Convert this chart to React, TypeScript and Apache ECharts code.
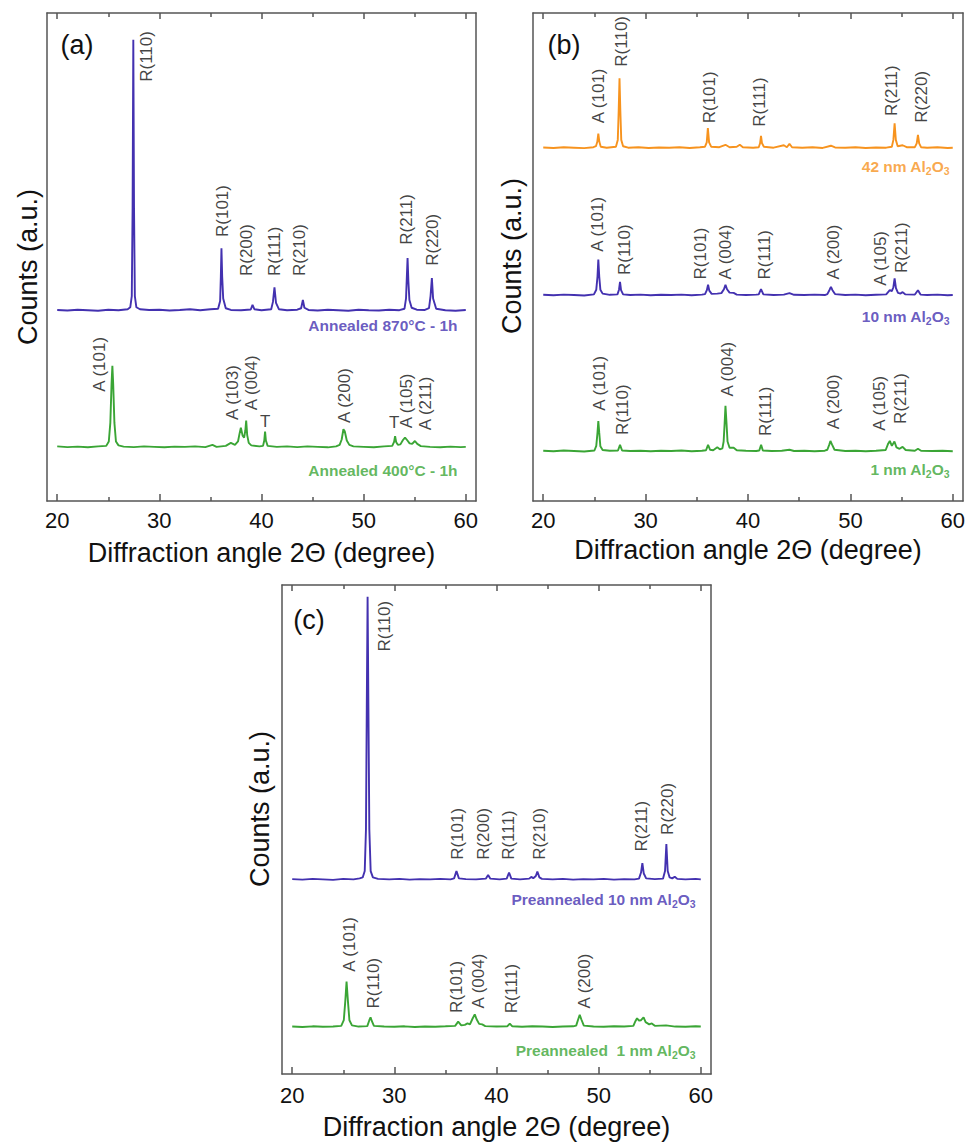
import React, { useEffect, useRef } from 'react';
import * as echarts from 'echarts';

const FONT = "'Liberation Sans', Arial, Helvetica, sans-serif";
const BLUE = '#4331b0';
const ORANGE = '#f7931e';
const GREEN = '#3aa535';
const AXIS = '#555555';
const TXT = '#111111';

const xTicksMajor = [20, 30, 40, 50, 60];
const xTicksMinor = [25, 35, 45, 55];
const X_NAME = 'Diffraction angle 2\u0398 (degree)';
const Y_NAME = 'Counts (a.u.)';

// ---------- panel (a) ----------
const a870 = [[20,39.15],[21,39.05],[22,39.2],[23,39.1],[24,39.0],[25,39.2],[26,39.1],[26.9,39.3],[27.15,39.7],[27.3,42],[27.38,60],[27.45,94.5],[27.52,60],[27.6,42],[27.75,39.7],[28.1,39.3],[29,39.15],[30,39.2],[31,39.05],[32,39.15],[33,39.3],[34,39.1],[35,39.3],[35.75,39.4],[35.95,41],[36.02,46],[36.08,51.8],[36.15,46],[36.25,41.5],[36.5,39.5],[37,39.15],[38,39.1],[38.95,39.25],[39.12,40.2],[39.3,39.3],[40,39.1],[40.95,39.3],[41.12,40.8],[41.27,43.8],[41.42,40.6],[41.7,39.3],[42.5,39.1],[43.5,39.2],[43.88,39.5],[44.05,41.2],[44.2,39.6],[44.6,39.15],[45.5,39.05],[46.5,39.2],[47.5,39.1],[48.5,39.0],[49.5,39.2],[50.5,39.1],[51.5,39.05],[52.5,39.2],[53.5,39.1],[54.0,39.4],[54.15,41.5],[54.23,46],[54.3,49.8],[54.38,45],[54.48,41.2],[54.7,39.6],[55.2,39.2],[56,39.15],[56.4,39.5],[56.55,42],[56.68,45.7],[56.8,41.5],[57.1,39.4],[58,39.1],[59,39.0],[60,39.15]];
const a400 = [[20,11.2],[21,11.05],[22,11.15],[23,11.0],[24,11.2],[24.8,11.3],[25.05,12.2],[25.2,16],[25.32,24],[25.4,27.7],[25.48,24],[25.6,16],[25.75,12.2],[26.0,11.4],[26.5,11.15],[27.5,11.05],[28.5,11.2],[29.5,11.1],[30.5,11.0],[31.5,11.15],[32.5,11.1],[33.5,11.2],[34.5,11.05],[35.2,11.5],[35.6,11.1],[36.5,11.3],[37.0,11.9],[37.4,11.5],[37.7,12.2],[37.85,13.8],[37.98,15.0],[38.15,13.4],[38.3,13.0],[38.42,14.5],[38.5,16.5],[38.6,13.5],[38.75,11.9],[39.0,11.4],[39.8,11.2],[40.15,11.3],[40.27,12.4],[40.35,14.2],[40.43,12.4],[40.6,11.3],[41.5,11.1],[42.5,11.2],[43.5,11.05],[44.5,11.2],[45.5,11.1],[46.5,11.0],[47.3,11.2],[47.65,11.5],[47.85,12.6],[48.02,14.7],[48.15,14.3],[48.35,12.4],[48.6,11.5],[49,11.2],[50,11.1],[51,11.0],[52,11.2],[52.8,11.3],[52.98,12.1],[53.08,13.3],[53.18,12.1],[53.35,11.5],[53.6,11.6],[53.85,12.5],[54.05,13.0],[54.25,12.5],[54.5,11.8],[54.75,11.7],[55.02,12.3],[55.25,11.7],[55.6,11.25],[56.5,11.1],[57.5,11.0],[58.5,11.15],[59.5,11.05],[60,11.1]];
const a870Labels = [[28.79,85.9,'R(110)'],[36.2,54.1,'R(101)'],[38.57,46.1,'R(200)'],[41.28,46.1,'R(111)'],[43.73,46.1,'R(210)'],[54.23,52.5,'R(211)'],[56.77,48.2,'R(220)']];
const a400Labels = [[24.16,22.4,'A (101)'],[37.2,16.6,'A (103)'],[39.06,18.6,'A (004)'],[48.13,16.0,'A (200)'],[54.23,14.9,'A (105)'],[56.1,14.5,'A (211)']];
const aUpright = [[40.37,16.3,'T'],[53.0,16.0,'T']];

// ---------- panel (b) ----------
const b42 = [[20,72.45],[21,72.35],[22,72.5],[23,72.4],[24,72.3],[24.9,72.5],[25.15,72.7],[25.28,73.6],[25.38,75.3],[25.48,73.6],[25.62,72.6],[26.2,72.4],[27.1,72.6],[27.28,74],[27.37,80],[27.45,86.6],[27.53,80],[27.62,74],[27.8,72.7],[28.3,72.4],[29.3,72.5],[30.3,72.35],[31.3,72.45],[32.3,72.4],[33.3,72.5],[34.3,72.35],[35.3,72.5],[35.8,72.6],[35.97,73.5],[36.08,76.4],[36.2,73.5],[36.4,72.6],[37.2,72.5],[37.8,73.0],[38.2,72.5],[38.9,72.6],[39.2,73.0],[39.5,72.5],[40.5,72.4],[41.05,72.5],[41.18,73.3],[41.27,74.8],[41.37,73.3],[41.55,72.6],[42.5,72.4],[43.5,72.9],[43.8,72.5],[44.05,73.2],[44.3,72.5],[45.3,72.4],[46.3,72.5],[47.3,72.35],[48.1,72.8],[48.5,72.45],[49.5,72.4],[50.5,72.5],[51.5,72.35],[52.5,72.45],[53.5,72.4],[54.05,72.6],[54.2,74],[54.32,77.4],[54.44,74],[54.62,72.7],[55.1,72.9],[55.5,72.5],[56.3,72.5],[56.48,73.3],[56.6,75.0],[56.72,73.3],[56.9,72.5],[57.5,72.4],[58.5,72.5],[59.5,72.35],[60,72.4]];
const b10 = [[20,42.25],[21,42.15],[22,42.3],[23,42.2],[24,42.1],[24.95,42.35],[25.18,43.3],[25.3,46],[25.38,49.5],[25.47,46],[25.58,43.3],[25.8,42.5],[26.5,42.25],[27.25,42.35],[27.4,43.3],[27.5,44.9],[27.6,43.2],[27.8,42.35],[28.5,42.2],[29.5,42.3],[30.5,42.15],[31.5,42.25],[32.5,42.2],[33.5,42.3],[34.5,42.15],[35.5,42.3],[35.8,42.4],[35.98,43.2],[36.1,44.3],[36.22,43.1],[36.45,42.45],[37.0,42.5],[37.4,42.6],[37.65,43.4],[37.8,44.3],[37.95,43.4],[38.2,42.7],[38.6,42.65],[38.9,42.3],[39.8,42.2],[40.8,42.3],[41.05,42.35],[41.27,43.4],[41.5,42.35],[42.5,42.2],[43.5,42.3],[44.05,42.6],[44.5,42.25],[45.5,42.2],[46.5,42.3],[47.5,42.2],[47.75,42.4],[47.95,43.2],[48.1,43.9],[48.25,43.2],[48.5,42.4],[49.5,42.2],[50.5,42.3],[51.5,42.15],[52.5,42.25],[53.5,42.35],[53.85,43.2],[54.05,43.0],[54.2,43.8],[54.32,45.6],[54.45,43.6],[54.65,42.65],[54.9,42.5],[55.1,42.8],[55.35,42.35],[56.3,42.3],[56.6,43.2],[56.85,42.3],[57.5,42.2],[58.5,42.3],[59.5,42.15],[60,42.2]];
const b1 = [[20,10.3],[21,10.2],[22,10.35],[23,10.25],[24,10.15],[25.0,10.35],[25.18,11.3],[25.3,14],[25.38,16.4],[25.47,14],[25.58,11.2],[25.8,10.45],[26.5,10.3],[27.3,10.35],[27.5,11.5],[27.7,10.35],[28.5,10.25],[29.5,10.3],[30.5,10.2],[31.5,10.3],[32.5,10.25],[33.5,10.35],[34.5,10.2],[35.5,10.3],[35.9,10.4],[36.1,11.5],[36.3,10.5],[36.6,10.4],[37.0,11.0],[37.25,10.6],[37.5,10.8],[37.62,12.2],[37.72,16],[37.8,19.5],[37.9,16],[38.0,12.2],[38.2,10.9],[38.6,10.9],[38.9,10.4],[39.8,10.3],[40.8,10.25],[41.1,10.35],[41.28,11.5],[41.45,10.35],[42.3,10.25],[43.3,10.3],[44.05,10.5],[44.5,10.25],[45.5,10.3],[46.5,10.2],[47.5,10.3],[47.75,10.5],[47.95,11.6],[48.05,12.3],[48.2,11.6],[48.45,10.5],[49.5,10.25],[50.5,10.3],[51.5,10.2],[52.5,10.3],[53.45,10.45],[53.7,11.8],[53.85,12.3],[54.05,11.3],[54.3,12.2],[54.5,11.0],[54.8,10.7],[55.1,11.1],[55.4,10.45],[56.3,10.3],[56.6,10.7],[56.9,10.3],[58,10.25],[59,10.3],[60,10.2]];
const b42Labels = [[25.38,77.4,'A (101)'],[27.6,89.0,'R(110)'],[36.2,77.4,'R(101)'],[41.1,76.7,'R(111)'],[54.05,78.9,'R(211)'],[56.9,77.5,'R(220)']];
const b10Labels = [[25.3,51.1,'A (101)'],[27.9,46.3,'R(110)'],[35.4,45.4,'R(101)'],[37.85,45.4,'A (004)'],[41.6,45.4,'R(111)'],[48.35,45.4,'A (200)'],[52.9,44.1,'A (105)'],[54.97,46.7,'R(211)']];
const b1Labels = [[25.47,18.5,'A (101)'],[27.75,13.5,'R(110)'],[38.0,21.4,'A (004)'],[41.67,13.3,'R(111)'],[48.35,14.7,'A (200)'],[52.85,14.4,'A (105)'],[54.87,15.8,'R(211)']];

// ---------- panel (c) ----------
const c10 = [[20,39.85],[21,39.75],[22,39.9],[23,39.8],[24,39.7],[25,39.9],[26,39.8],[26.6,40.0],[26.9,40.2],[27.1,41.5],[27.22,50],[27.3,75],[27.38,97.6],[27.46,75],[27.55,50],[27.68,41.5],[27.9,40.2],[28.4,39.9],[29.5,39.8],[30.5,39.9],[31.5,39.75],[32.5,39.85],[33.5,39.8],[34.5,39.9],[35.5,39.8],[35.85,40.0],[36.08,41.5],[36.32,40.0],[37,39.85],[38,39.8],[38.95,39.95],[39.18,40.7],[39.4,39.95],[40.3,39.8],[41.0,39.95],[41.23,41.2],[41.45,39.95],[42.3,39.8],[43.2,39.95],[43.4,40.3],[43.6,40.05],[43.85,40.5],[44.0,41.4],[44.2,40.2],[44.45,39.9],[45.5,39.8],[46.5,39.9],[47.5,39.75],[48.5,39.85],[49.5,39.8],[50.5,39.9],[51.5,39.75],[52.5,39.85],[53.5,39.8],[53.95,39.95],[54.15,41.2],[54.28,43.1],[54.42,41.0],[54.65,40.0],[55.5,39.85],[56.3,39.95],[56.5,41.5],[56.63,47.0],[56.76,41.5],[56.95,40.2],[57.2,40.0],[57.45,40.35],[57.7,39.9],[58.5,39.8],[59.5,39.9],[60,39.8]];
const c1 = [[20,9.7],[21,9.6],[22,9.75],[23,9.65],[24,9.7],[24.8,9.85],[25.05,11],[25.2,15],[25.32,18.9],[25.45,15],[25.6,11],[25.85,9.95],[26.5,9.7],[27.35,9.8],[27.55,11],[27.67,11.6],[27.8,10.8],[28.0,9.85],[29,9.7],[30,9.65],[31,9.75],[32,9.6],[33,9.7],[34,9.65],[35,9.75],[35.95,9.85],[36.25,10.7],[36.55,9.95],[36.9,10.05],[37.16,10.35],[37.4,10.15],[37.65,11.3],[37.87,12.2],[38.05,11.2],[38.3,10.25],[38.6,10.15],[38.9,9.8],[40,9.7],[41.05,9.75],[41.3,10.3],[41.55,9.75],[42.5,9.65],[43.5,9.75],[44.5,9.7],[45.5,9.6],[46.5,9.7],[47.5,9.75],[47.8,9.9],[48.0,11.2],[48.15,12.1],[48.3,11.2],[48.55,9.9],[49.5,9.7],[50.5,9.65],[51.5,9.75],[52.5,9.7],[53.4,9.85],[53.6,10.8],[53.76,11.4],[53.95,10.9],[54.15,11.0],[54.4,11.6],[54.6,10.6],[54.95,10.15],[55.2,10.35],[55.5,9.85],[56.6,9.95],[57.5,9.7],[58.5,9.65],[59.5,9.75],[60,9.7]];
const c10Labels = [[29.07,86.4,'R(110)'],[36.15,43.8,'R(101)'],[38.7,43.8,'R(200)'],[41.14,43.8,'R(111)'],[44.24,43.8,'R(210)'],[54.19,45.5,'R(211)'],[56.73,48.9,'R(220)']];
const c1Labels = [[25.58,20.9,'A (101)'],[28.0,13.4,'R(110)'],[36.08,12.5,'R(101)'],[38.2,13.4,'A (004)'],[41.47,12.4,'R(111)'],[48.64,13.4,'A (200)']];

// sample names: [x(right edge), y(center), prefix, hasAl2O3, color, panel]
const sampleNames: [number, number, string, boolean, string, number][] = [
  [59.19, 35.9, 'Annealed 870\u00B0C - 1h', false, BLUE, 0],
  [59.19, 6.35, 'Annealed 400\u00B0C - 1h', false, GREEN, 0],
  [59.69, 68.5, '42 nm Al', true, ORANGE, 1],
  [59.69, 37.9, '10 nm Al', true, BLUE, 1],
  [59.69, 6.5, '1 nm Al', true, GREEN, 1],
  [59.5, 35.6, 'Preannealed 10 nm Al', true, BLUE, 2],
  [59.5, 4.76, 'Preannealed  1 nm Al', true, GREEN, 2],
];

const GRIDS = [
  { left: 47, top: 13, width: 429, height: 488 },
  { left: 533, top: 13, width: 430, height: 488 },
  { left: 282, top: 585, width: 429, height: 489 },
];
const NAME_GAP = [38, 35, 39];
const LABEL_MARGIN = [8, 8, 10];

function buildOption() {
  const axisLineStyle = { color: AXIS, width: 1.5 };
  const xAxis: any[] = [];
  const yAxis: any[] = [];
  GRIDS.forEach((_, g) => {
    xAxis.push({
      gridIndex: g, type: 'value', min: 19, max: 61, position: 'bottom',
      axisLine: { show: true, lineStyle: axisLineStyle },
      axisTick: { show: true, inside: true, length: 7, customValues: xTicksMajor, lineStyle: axisLineStyle },
      axisLabel: { show: true, customValues: xTicksMajor, fontSize: 22, color: TXT, fontFamily: FONT, margin: LABEL_MARGIN[g] },
      splitLine: { show: false },
      name: X_NAME, nameLocation: 'middle', nameGap: NAME_GAP[g],
      nameTextStyle: { fontSize: 27, color: TXT, fontFamily: FONT },
    });
    xAxis.push({
      gridIndex: g, type: 'value', min: 19, max: 61, position: 'bottom',
      axisLine: { show: false },
      axisTick: { show: true, inside: true, length: 4, customValues: xTicksMinor, lineStyle: axisLineStyle },
      axisLabel: { show: false }, splitLine: { show: false },
    });
    xAxis.push({
      gridIndex: g, type: 'value', min: 19, max: 61, position: 'top',
      axisLine: { show: true, lineStyle: axisLineStyle },
      axisTick: { show: true, inside: true, length: 6, customValues: xTicksMajor, lineStyle: axisLineStyle },
      axisLabel: { show: false }, splitLine: { show: false },
    });
    xAxis.push({
      gridIndex: g, type: 'value', min: 19, max: 61, position: 'top',
      axisLine: { show: false },
      axisTick: { show: true, inside: true, length: 4, customValues: xTicksMinor, lineStyle: axisLineStyle },
      axisLabel: { show: false }, splitLine: { show: false },
    });
    yAxis.push({
      gridIndex: g, type: 'value', min: 0, max: 100, position: 'left',
      axisLine: { show: true, lineStyle: axisLineStyle },
      axisTick: { show: false }, axisLabel: { show: false }, splitLine: { show: false },
    });
    yAxis.push({
      gridIndex: g, type: 'value', min: 0, max: 100, position: 'right',
      axisLine: { show: true, lineStyle: axisLineStyle },
      axisTick: { show: false }, axisLabel: { show: false }, splitLine: { show: false },
    });
  });

  const series: any[] = [];
  const line = (g: number, data: number[][], color: string) => ({
    type: 'line', xAxisIndex: 4 * g, yAxisIndex: 2 * g, data, showSymbol: false, symbol: 'none',
    lineStyle: { color, width: 1.9 }, silent: true, z: 3,
  });
  const rotLabels = (g: number, items: any[], rotate: boolean) => ({
    type: 'scatter', xAxisIndex: 4 * g, yAxisIndex: 2 * g, symbolSize: 1,
    itemStyle: { color: 'rgba(0,0,0,0)' }, silent: true, z: 5,
    data: items.map((l) => ({ value: [l[0], l[1]], name: l[2] })),
    label: {
      show: true, formatter: '{b}', position: 'inside',
      rotate: rotate ? 90 : 0, align: rotate ? 'left' : 'center', verticalAlign: 'middle',
      fontSize: 17, color: TXT, fontFamily: FONT,
    },
  });
  series.push(line(0, a870, BLUE), line(0, a400, GREEN));
  series.push(line(1, b42, ORANGE), line(1, b10, BLUE), line(1, b1, GREEN));
  series.push(line(2, c10, BLUE), line(2, c1, GREEN));
  series.push(rotLabels(0, a870Labels, true), rotLabels(0, a400Labels, true), rotLabels(0, aUpright, false));
  series.push(rotLabels(1, b42Labels, true), rotLabels(1, b10Labels, true), rotLabels(1, b1Labels, true));
  series.push(rotLabels(2, c10Labels, true), rotLabels(2, c1Labels, true));

  sampleNames.forEach(([x, y, text, al, color, g]) => {
    const rich = {
      m: { fontSize: 15.5, fontWeight: 'bold', color, fontFamily: FONT, lineHeight: 20 },
      s: { fontSize: 10.5, fontWeight: 'bold', color, fontFamily: FONT, lineHeight: 10, verticalAlign: 'bottom' },
    };
    const fmt = al ? `{m|${text}}{s|2}{m|O}{s|3}` : `{m|${text}}`;
    series.push({
      type: 'scatter', xAxisIndex: 4 * g, yAxisIndex: 2 * g, symbolSize: 1,
      itemStyle: { color: 'rgba(0,0,0,0)' }, silent: true, z: 5,
      data: [{ value: [x, y], name: text }],
      label: { show: true, formatter: fmt, position: 'inside', align: 'right', verticalAlign: 'middle', rich },
    });
  });

  const txt = (text: string, x: number, y: number, size: number, rot = 0) => ({
    type: 'text', x, y, rotation: rot, silent: true,
    style: { text, fontSize: size, fontFamily: FONT, fill: TXT, textAlign: 'center', textVerticalAlign: 'middle' },
  });
  const graphic = [
    txt('(a)', 77, 45, 27), txt('(b)', 564, 45, 27), txt('(c)', 309, 620, 27),
    txt(Y_NAME, 28, 267, 27, Math.PI / 2),
    txt(Y_NAME, 512, 256, 27, Math.PI / 2),
    txt(Y_NAME, 260, 809, 27, Math.PI / 2),
  ];

  return {
    animation: false,
    backgroundColor: '#ffffff',
    grid: GRIDS.map((g) => ({ ...g, containLabel: false })),
    xAxis, yAxis, series, graphic,
  };
}

export default function App() {
  const ref = useRef<HTMLDivElement>(null);
  useEffect(() => {
    const chart = echarts.init(ref.current!, null, { renderer: 'svg' });
    chart.setOption(buildOption() as any);
    return () => chart.dispose();
  }, []);
  return (
    <div
      ref={ref}
      style={{ position: 'absolute', left: 0, top: 0, width: 968, height: 1143, background: '#fff' }}
    />
  );
}
